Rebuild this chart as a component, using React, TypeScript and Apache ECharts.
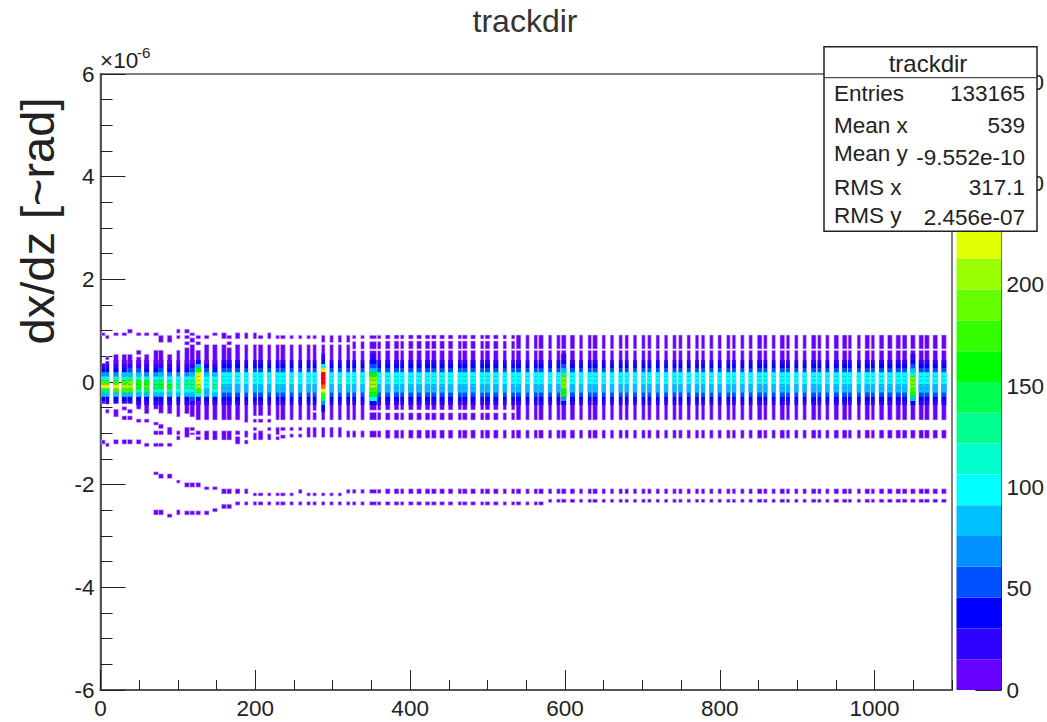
import React, { useEffect, useRef } from "react";
import * as echarts from "echarts";

const TITLE = "trackdir";
const X_TICK_STEP = 200;
const Y_TICK_STEP = 2;

// colour scale (palette contours)
const contourLevels = [0, 15.2, 30.4, 45.6, 60.8, 76, 91.2, 106.4, 121.6, 136.8, 152, 167.2, 182.4, 197.6, 212.8, 228, 243.2, 258.4, 273.6, 288.8, 304];
const contourColors = ["#6600ff", "#3000ff", "#0000ff", "#0050ff", "#0090ff", "#00c0ff", "#00ffff", "#00ffcc", "#00ff90", "#00ff50", "#00ff00", "#33ff00", "#66ff00", "#99ff00", "#e0ff00", "#ffcc00", "#ff9900", "#ff6600", "#ff3300", "#ff0000"];

// y edges (x10^-6) of the rows of the bright centre band
const coreEdges = [0.43, 0.35, 0.27, 0.19, 0.11, 0.03, -0.05, -0.13, -0.21, -0.29, -0.37, -0.45];
const coreStandard = [22, 40, 55, 95, 100, 97, 85, 82, 50, 40, 20];
const coreByBin: Record<string, number[]> = {
  "3.7": [12, 22, 40, 65, 110, 175, 215, 140, 80, 40, 15],
  "8.8": [12, 25, 40, 70, 100, 170, 225, 150, 80, 40, 20],
  "20": [12, 25, 45, 75, 110, 180, 225, 170, 85, 40, 20],
  "30.8": [12, 25, 45, 80, 120, 175, 200, 170, 90, 40, 20],
  "38": [15, 30, 50, 85, 130, 190, 205, 170, 90, 45, 20],
  "49.3": [15, 30, 50, 80, 115, 160, 165, 130, 85, 45, 20],
  "59.6": [15, 30, 45, 75, 110, 165, 180, 140, 85, 45, 20],
  "71.7": [12, 25, 45, 70, 100, 130, 150, 115, 85, 45, 20],
  "78.1": [15, 30, 50, 85, 115, 150, 160, 120, 85, 45, 20],
  "89.3": [12, 25, 45, 75, 100, 130, 165, 125, 85, 45, 20],
  "100.5": [12, 25, 45, 75, 100, 110, 125, 100, 85, 45, 20],
  "111.7": [12, 25, 45, 75, 105, 125, 130, 105, 85, 45, 20],
  "118.6": [15, 30, 50, 85, 115, 135, 135, 110, 85, 50, 25],
  "126.3": [40, 85, 160, 215, 220, 220, 205, 170, 110, 45, 15],
  "137.1": [15, 35, 55, 85, 100, 100, 100, 90, 82, 45, 25],
  "147.8": [12, 25, 45, 90, 105, 115, 125, 100, 82, 45, 20],
  "287.7": [40, 120, 225, 295, 300, 295, 260, 225, 170, 150, 65],
  "352.2": [40, 60, 90, 160, 195, 205, 200, 180, 160, 100, 40],
  "598.4": [35, 50, 80, 125, 190, 195, 185, 165, 155, 75, 40],
  "1049.5": [35, 50, 80, 120, 185, 190, 190, 175, 160, 80, 40],
};
// [x, y high, y low, count]
const extraCells = [
  [287.7, 0.55, 0.43, 25],
  [287.7, -0.45, -0.58, 40],
  [352.2, 0.55, 0.43, 22],
  [1049.5, 0.55, 0.43, 22],
  [598.4, 0.55, 0.43, 22],
];

// filled y intervals [high, low] of the low-count cells, low-x bins one by one
const stripsNear2 = [[-2.16, -2.22], [-2.33, -2.4]];
const stripsFar2 = [[-2.09, -2.17], [-2.33, -2.4]];
const leftBins: [number, number[][]][] = [
  [3.7, [[0.96, 0.9], [0.36, -0.42], [-1.13, -1.21]]],
  [8.8, [[0.91, 0.84], [0.49, 0.43], [0.4, -0.43], [-0.53, -0.61], [-1.19, -1.26]]],
  [20, [[0.96, 0.9], [0.54, -0.42], [-0.53, -0.68], [-1.12, -1.21]]],
  [30.8, [[0.96, 0.9], [0.54, -0.42], [-0.48, -0.55], [-0.66, -0.74], [-1.12, -1.21]]],
  [38, [[1.03, 0.95], [0.54, -0.42], [-0.53, -0.61], [-0.66, -0.74], [-1.12, -1.21]]],
  [49.3, [[0.96, 0.9], [0.62, 0.53], [0.49, -0.53], [-0.72, -0.79], [-1.12, -1.21]]],
  [59.6, [[0.96, 0.9], [0.54, -0.62], [-0.72, -0.79], [-1.19, -1.26]]],
  [71.7, [[0.96, 0.9], [0.62, -0.53], [-0.78, -0.84], [-0.95, -1.03], [-1.19, -1.26], [-1.75, -1.81], [-2.49, -2.59]]],
  [78.1, [[0.91, 0.77], [0.62, -0.61], [-0.82, -0.91], [-0.95, -1.03], [-1.19, -1.26], [-1.79, -1.88], [-2.49, -2.59]]],
  [89.3, [[0.91, 0.77], [0.54, -0.62], [-0.88, -1.03], [-1.19, -1.26], [-1.79, -1.88], [-2.57, -2.64]]],
  [100.5, [[1.03, 0.95], [0.91, 0.84], [0.62, -0.68], [-0.95, -1.03], [-1.05, -1.13], [-1.91, -1.97], [-2.49, -2.59]]],
  [111.7, [[1.03, 0.95], [0.91, 0.84], [0.79, 0.72], [0.67, -0.62], [-0.88, -1.08], [-1.96, -2.05], [-2.51, -2.59]]],
  [118.6, [[0.96, 0.9], [0.86, 0.77], [0.73, -0.68], [-0.88, -0.95], [-0.99, -1.03], [-1.96, -2.05], [-2.51, -2.59]]],
  [126.3, [[0.91, 0.84], [0.79, 0.72], [0.62, -0.74], [-0.95, -1.03], [-1.06, -1.13], [-1.96, -2.05], [-2.51, -2.59]]],
  [137.1, [[0.91, 0.84], [0.73, -0.74], [-0.95, -1.13], [-2.04, -2.1], [-2.51, -2.59]]],
  [147.8, [[0.96, 0.9], [0.73, -0.74], [-0.95, -1.13], [-2.04, -2.1], [-2.46, -2.53]]],
  [159.5, [[0.96, 0.84], [0.73, -0.74], [-0.95, -1.13], [-2.08, -2.18], [-2.38, -2.47]]],
  [166.3, [[0.91, 0.84], [0.79, 0.72], [0.67, -0.74], [-0.95, -1.13], [-2.08, -2.18], [-2.38, -2.47]]],
  [177.1, [[0.96, 0.84], [0.73, -0.74], [-0.95, -1.03], [-1.06, -1.21], [-2.08, -2.18], [-2.33, -2.4]]],
  [188.3, [[0.96, 0.84], [0.73, -0.79], [-0.95, -1.08], [-1.13, -1.21], [-2.08, -2.18], [-2.33, -2.4]]],
  [199.5, [[0.96, 0.84], [0.73, -0.66], [-0.72, -0.79], [-0.88, -0.95], [-0.99, -1.13], ...stripsNear2]],
  [206.8, [[0.91, 0.84], [0.73, -0.66], [-0.72, -0.79], [-0.95, -1.13], ...stripsNear2]],
  [218, [[0.96, 0.84], [0.73, -0.66], [-0.72, -0.79], [-0.88, -0.95], [-1.01, -1.13], ...stripsNear2]],
  [228.8, [[0.91, 0.84], [0.73, -0.74], [-0.88, -1.03], [-1.06, -1.13], ...stripsNear2]],
  [235.6, [[0.91, 0.84], [0.73, -0.74], [-0.88, -0.95], [-1.03, -1.1], ...stripsNear2]],
  [246.9, [[0.91, 0.84], [0.73, -0.74], [-0.88, -0.95], [-1.01, -1.08], ...stripsNear2]],
  [258, [[0.91, 0.84], [0.73, -0.74], [-0.88, -0.95], [-1.01, -1.08], ...stripsFar2]],
  [268.8, [[0.91, 0.84], [0.73, -0.74], [-0.88, -1.08], ...stripsNear2]],
  [276.6, [[0.91, 0.84], [0.73, -0.56], [-0.59, -0.74], [-0.88, -1.08], ...stripsNear2]],
  [287.7, [[0.91, 0.77], [0.73, -0.74], [-0.88, -1.08], ...stripsNear2]],
  [298.5, [[0.91, 0.77], [0.73, -0.74], [-0.88, -1.08], ...stripsNear2]],
  [309.2, [[0.91, 0.77], [0.73, -0.74], [-0.88, -1.08], ...stripsNear2]],
  [320, [[0.91, 0.77], [0.73, -0.74], [-0.95, -1.08], ...stripsFar2]],
  [327.7, [[0.91, 0.84], [0.79, 0.64], [0.61, -0.74], [-0.95, -1.08], ...stripsFar2]],
  [338.5, [[0.91, 0.84], [0.79, 0.64], [0.61, -0.74], [-0.95, -1.08], ...stripsFar2]],
  [352.2, [[0.91, 0.84], [0.79, 0.64], [0.61, -0.55], [-0.59, -0.74], [-0.95, -1.08], ...stripsFar2]],
  [360, [[0.91, 0.84], [0.79, 0.64], [0.61, -0.55], [-0.59, -0.74], [-0.95, -1.08], ...stripsFar2]],
];

// filled y intervals shared by the later bins
const midBins = [371, 382.4, 389.7, 400.9, 411.6, 422.5, 430.6, 441.3, 452.2, 464.2, 470.6, 481.3, 493, 499.9, 510.7, 522.3, 533];
const midSegments = [[0.916, 0.838], [0.8, 0.643], [0.618, -0.545], [-0.6, -0.74], [-0.935, -1.097], [-2.08, -2.18], [-2.33, -2.4]];
const transitionBins = [540, 551.6, 562.3, 569.1];
const transitionSegments = [[0.916, 0.643], [0.618, -0.74], [-0.935, -1.097], [-2.08, -2.18], [-2.33, -2.4]];
const rightBins = [580.8, 591.6, 598.4, 609.7, 620.8, 632, 638.9, 650.1, 660.8, 672, 679.8, 690.5, 701.4, 709.1, 719.9, 730.6, 741.5, 749.2, 759.9, 770.6, 778.4, 789.2, 799.9, 811.1, 818.3, 829.2, 839.9, 851.5, 858.9, 869.6, 880.8, 888.1, 898.9, 909.6, 921.3, 928.7, 939, 950.6, 961.3, 968.1, 979.7, 990.6, 997.8, 1009, 1019.7, 1030.6, 1038.8, 1049.5, 1060.3, 1067.6, 1078.4, 1089.5];
const rightSegments = [[0.916, 0.643], [0.618, -0.74], [-0.935, -1.097], [-2.08, -2.18], [-2.28, -2.35]];

const narrowBins = [3.7, 8.8, 100.5, 188.3, 199.5, 218, 228.8, 246.9, 258, 268.8, 276.6, 287.7, 298.5, 309.2, 320, 327.7, 338.5, 360, 389.7, 464.2, 493, 522.3, 533, 551.6, 562.3, 580.8, 591.6, 620.8, 632, 650.1, 660.8, 672, 679.8, 690.5, 701.4, 709.1, 719.9, 730.6, 741.5, 749.2, 759.9, 770.6, 778.4, 789.2, 799.9, 811.1, 818.3, 829.2, 839.9, 858.9, 869.6, 888.1, 898.9, 909.6, 928.7, 939, 968.1, 979.7, 997.8];
const LOW_COUNT = 5;

const statRows = [
  ["Entries", "133165"],
  ["Mean x", "539"],
  ["Mean y", "-9.552e-10"],
  ["RMS x", "317.1"],
  ["RMS y", "2.456e-07"],
];

const FONT = "'Liberation Sans', Arial, sans-serif";

function colourOf(count: number) {
  for (let i = contourColors.length - 1; i >= 0; i--) if (count >= contourLevels[i]) return contourColors[i];
  return contourColors[0];
}

function buildCells() {
  const columns: [number, number[][]][] = [
    ...leftBins,
    ...midBins.map((x) => [x, midSegments] as [number, number[][]]),
    ...transitionBins.map((x) => [x, transitionSegments] as [number, number[][]]),
    ...rightBins.map((x) => [x, rightSegments] as [number, number[][]]),
  ];
  const cells: number[][] = [];
  const coreCells: number[][] = [];
  columns.forEach(([x, segs]) => {
    const narrow = narrowBins.includes(x);
    const w = x === 352.2 ? 9 : narrow ? 4.6 : 6.2;
    segs.forEach(([hi, lo]) => cells.push([x, w, hi, lo, LOW_COUNT]));
    const main = segs.find(([hi, lo]) => hi > 0 && lo < 0);
    const counts = coreByBin[String(x)] || coreStandard;
    counts.forEach((c, i) => {
      const hi = Math.min(coreEdges[i], main![0]);
      const lo = Math.max(coreEdges[i + 1], main![1]);
      // the brightest cells read a little wider than the dark ones in the picture
      if (hi > lo) coreCells.push([x, c >= 76 ? w + 1.2 : w, hi, lo, c]);
    });
  });
  extraCells.forEach(([x, hi, lo, c]) => coreCells.push([x, narrowBins.includes(x) ? 4.6 : 6.2, hi, lo, c]));
  return [...cells, ...coreCells];
}

export default function App() {
  const ref = useRef<HTMLDivElement>(null);
  useEffect(() => {
    const chart = echarts.init(ref.current!, undefined, { renderer: "svg" });
    const statTexts: any[] = [];
    const leftY = [93, 125, 153, 187, 215];
    const rightY = [93, 125, 157, 187, 217];
    statRows.forEach(([k, v], i) => {
      statTexts.push({ type: "text", z: 101, x: 834, y: leftY[i], style: { text: k, font: `22.5px ${FONT}`, fill: "#222", align: "left", verticalAlign: "middle" } });
      statTexts.push({ type: "text", z: 101, x: 1025, y: rightY[i], style: { text: v, font: `22.5px ${FONT}`, fill: "#222", align: "right", verticalAlign: "middle" } });
    });
    const tickStyle = { color: "#222", width: 1 };
    const labelStyle = { fontFamily: FONT, fontSize: 22.5, color: "#222" };
    const lineStyle = { color: "#555", width: 2 };
    const plain = (v: number) => String(v);
    chart.setOption({
      animation: false,
      backgroundColor: "#fff",
      title: { text: TITLE, left: 520, top: 0, textAlign: "center", textStyle: { fontFamily: FONT, fontSize: 32, fontWeight: "normal", color: "#333" } },
      grid: [
        { left: 100.5, top: 74, width: 851.5, height: 616, show: true, borderColor: "#555", borderWidth: 1.5, backgroundColor: "#fff" },
        { left: 956.5, top: 74, width: 48.5, height: 616 },
      ],
      xAxis: [
        {
          type: "value", gridIndex: 0, min: 0, max: 1100, interval: X_TICK_STEP, splitLine: { show: false },
          axisLine: { show: true, onZero: false, lineStyle }, axisTick: { inside: true, length: 20, lineStyle: tickStyle },
          axisLabel: { ...labelStyle, margin: 7, showMaxLabel: false, formatter: plain },
        },
        {
          type: "value", gridIndex: 0, min: 0, max: 1100, interval: 50, position: "bottom", splitLine: { show: false },
          axisLine: { show: false, onZero: false }, axisTick: { inside: true, length: 10, lineStyle: tickStyle }, axisLabel: { show: false },
        },
        { type: "value", gridIndex: 1, min: 0, max: 1, show: false },
      ],
      yAxis: [
        {
          type: "value", gridIndex: 0, min: -6, max: 6, interval: Y_TICK_STEP, splitLine: { show: false },
          axisLine: { show: true, onZero: false, lineStyle }, axisTick: { inside: true, length: 25, lineStyle: tickStyle },
          minorTick: { show: true, splitNumber: 4, length: 12, lineStyle: tickStyle },
          axisLabel: { ...labelStyle, margin: 6 },
        },
        {
          type: "value", gridIndex: 1, min: 0, max: 304, interval: 50, position: "right", splitLine: { show: false },
          axisLine: { show: true, onZero: false, lineStyle: { color: "#222", width: 1 } }, axisTick: { inside: true, length: 26, lineStyle: tickStyle },
          axisLabel: { ...labelStyle, margin: 5, showMaxLabel: false },
        },
      ],
      series: [
        {
          type: "custom", xAxisIndex: 0, yAxisIndex: 0, clip: true, silent: true,
          data: buildCells(),
          encode: { x: 0, y: 2 },
          renderItem: (_: any, api: any) => {
            const x = api.value(0), w = api.value(1), hi = api.value(2), lo = api.value(3), c = api.value(4);
            const a = api.coord([x - w / 2, hi]);
            const b = api.coord([x + w / 2, lo]);
            const low = c === LOW_COUNT;
            return {
              type: "rect",
              shape: { x: a[0], y: a[1], width: b[0] - a[0], height: b[1] - a[1] },
              style: low ? { fill: colourOf(c), stroke: "#d8c2ff", lineWidth: 0.6 } : { fill: colourOf(c) },
            };
          },
        },
        {
          type: "custom", xAxisIndex: 2, yAxisIndex: 1, silent: true,
          data: contourColors.map((_, i) => [contourLevels[i], contourLevels[i + 1]]),
          encode: { y: 0 },
          renderItem: (p: any, api: any) => {
            const a = api.coord([0, api.value(1)]);
            const b = api.coord([1, api.value(0)]);
            return { type: "rect", shape: { x: a[0], y: a[1], width: b[0] - a[0], height: b[1] - a[1] }, style: { fill: contourColors[p.dataIndex] } };
          },
        },
      ],
      graphic: [
        { type: "text", z: 100, x: 37, y: 221, rotation: Math.PI / 2, style: { text: "dx/dz [~rad]", font: `47px ${FONT}`, fill: "#222", align: "center", verticalAlign: "middle" } },
        { type: "text", z: 100, x: 100, y: 60, style: { text: "×10", font: `22.5px ${FONT}`, fill: "#222", align: "left", verticalAlign: "middle" } },
        { type: "text", z: 100, x: 137, y: 52, style: { text: "-6", font: `15px ${FONT}`, fill: "#222", align: "left", verticalAlign: "middle" } },
        { type: "rect", z: 100, shape: { x: 824, y: 46.7, width: 213, height: 184.6 }, style: { fill: "#fff", stroke: "#222", lineWidth: 1.5 } },
        { type: "line", z: 101, shape: { x1: 824, y1: 77.7, x2: 1037, y2: 77.7 }, style: { stroke: "#222", lineWidth: 1 } },
        { type: "text", z: 101, x: 928, y: 63, style: { text: TITLE, font: `24px ${FONT}`, fill: "#222", align: "center", verticalAlign: "middle" } },
        ...statTexts,
      ],
    });
    return () => chart.dispose();
  }, []);
  return <div ref={ref} style={{ position: "absolute", left: 0, top: 0, width: 1047, height: 722 }} />;
}
